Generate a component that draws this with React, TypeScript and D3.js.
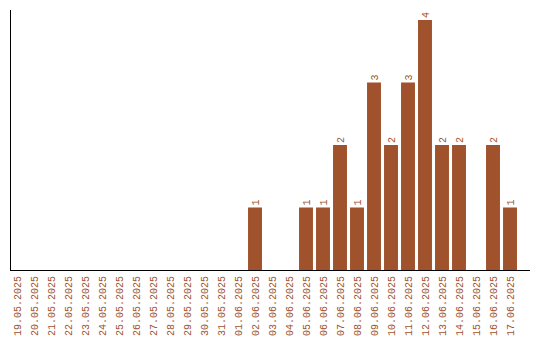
import React from "react";
import * as d3 from "d3";

const dates = [
  "19.05.2025","20.05.2025","21.05.2025","22.05.2025","23.05.2025","24.05.2025","25.05.2025",
  "26.05.2025","27.05.2025","28.05.2025","29.05.2025","30.05.2025","31.05.2025","01.06.2025",
  "02.06.2025","03.06.2025","04.06.2025","05.06.2025","06.06.2025","07.06.2025","08.06.2025",
  "09.06.2025","10.06.2025","11.06.2025","12.06.2025","13.06.2025","14.06.2025","15.06.2025",
  "16.06.2025","17.06.2025",
];
const counts = [0,0,0,0,0,0,0,0,0,0,0,0,0,0,1,0,0,1,1,2,1,3,2,3,4,2,2,0,2,1];

const W = 540, H = 340;
const COLOR = "#a0522d";
const FONT = "'Liberation Mono', 'DejaVu Sans Mono', monospace";

export default function App() {
  const x = d3.scaleBand<string>().domain(dates).range([8.5, 518.5]).paddingInner(0.18).paddingOuter(0.09);
  const y = d3.scaleLinear().domain([0, 4]).range([270, 20]);
  return (
    <svg width={W} height={H} style={{ position: "absolute", left: 0, top: 0 }}>
      <rect width={W} height={H} fill="#fff" />
      {dates.map((d, i) => counts[i] > 0 ? (
        <g key={d}>
          <rect x={x(d)!} y={y(counts[i])} width={x.bandwidth()} height={y(0) - y(counts[i])} fill={COLOR} />
          <text transform={`translate(${x(d)! + x.bandwidth() / 2},${y(counts[i]) - 2}) rotate(-90)`}
            dy="0.35em" fontFamily={FONT} fontSize={10} fill={COLOR} textAnchor="start">{counts[i]}</text>
        </g>
      ) : null)}
      <line x1={10.5} x2={10.5} y1={10} y2={270} stroke="#000" strokeWidth={1} />
      <line x1={10} x2={530} y1={270.5} y2={270.5} stroke="#000" strokeWidth={1} />
      {dates.map((d) => (
        <text key={"t" + d} transform={`translate(${x(d)! + x.bandwidth() / 2},276) rotate(-90)`}
          dy="0.35em" fontFamily={FONT} fontSize={10} fill={COLOR} textAnchor="end">{d}</text>
      ))}
    </svg>
  );
}
